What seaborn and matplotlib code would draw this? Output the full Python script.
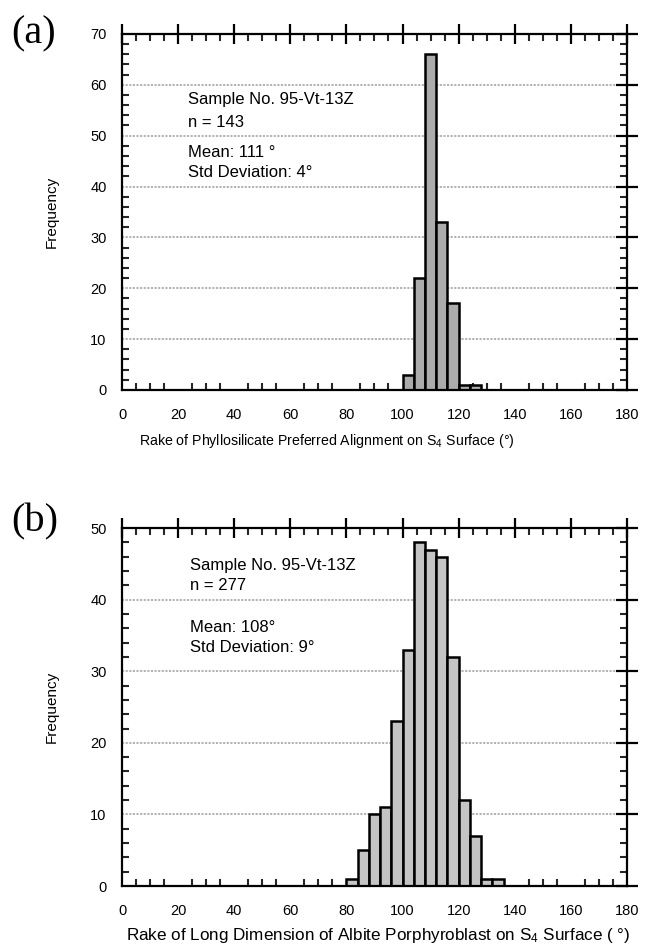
import numpy as np
import matplotlib
matplotlib.use("Agg")
import matplotlib.pyplot as plt
from matplotlib.ticker import MultipleLocator
import seaborn as sns

# histogram data, bins are 4 degrees wide (left edges listed)
bin_w = 4
bins_a = [100, 104, 108, 112, 116, 120, 124]
counts_a = [3, 22, 66, 33, 17, 1, 1]

bins_b = [80, 84, 88, 92, 96, 100, 104, 108, 112, 116, 120, 124, 128, 132]
counts_b = [1, 5, 10, 11, 23, 33, 48, 47, 46, 32, 12, 7, 1, 1]

text_a = ["Sample No. 95-Vt-13Z", "n = 143", "Mean: 111 \u00b0", "Std Deviation: 4\u00b0"]
text_b = ["Sample No. 95-Vt-13Z", "n = 277", "Mean: 108\u00b0", "Std Deviation: 9\u00b0"]

xlabel_a = "Rake of Phyllosilicate Preferred Alignment on S$_4$ Surface (\u00b0)"
xlabel_b = "Rake of Long Dimension of Albite Porphyroblast on S$_4$ Surface ( \u00b0)"

sns.set_style("white")
plt.rcParams['font.family'] = ['Liberation Sans', 'DejaVu Sans']
plt.rcParams['mathtext.fontset'] = 'custom'
plt.rcParams['mathtext.rm'] = 'Liberation Sans'
plt.rcParams['mathtext.it'] = 'Liberation Sans:italic'
plt.rcParams['text.color'] = 'black'
plt.rcParams['axes.labelcolor'] = 'black'

fig = plt.figure(figsize=(6.49, 9.47), dpi=100)
ax_a = fig.add_axes([0.188, 0.5882, 0.778, 0.376])
ax_b = fig.add_axes([0.188, 0.0644, 0.778, 0.378])


def draw_panel(ax, bins, counts, color, ymax, lines, text_y, text_x,
               xlabel, xlabel_size, xlabel_pos):
    edges = list(bins) + [bins[-1] + bin_w]
    sns.histplot(x=bins, weights=counts, bins=edges, ax=ax, color=color,
                 edgecolor='black', linewidth=1.8, alpha=1)
    ax.set_xlim(0, 180)
    ax.set_ylim(0, ymax)
    ax.xaxis.set_major_locator(MultipleLocator(20))
    ax.xaxis.set_minor_locator(MultipleLocator(5))
    ax.yaxis.set_major_locator(MultipleLocator(10))
    ax.yaxis.set_minor_locator(MultipleLocator(2))
    ax.set_axisbelow(True)
    ax.yaxis.grid(True, which='major', color='0.68', lw=1.3, ls=(0, (1.2, 0.8)))
    ax.xaxis.grid(False)
    for s in ax.spines.values():
        s.set_linewidth(1.6)
        s.set_color('black')
    ax.tick_params(which='major', direction='inout', width=1.6, top=True, right=True,
                   labeltop=False, labelright=False, labelsize=10.5, colors='black')
    ax.tick_params(axis='x', which='major', length=14, pad=6)
    ax.tick_params(axis='y', which='major', length=16, pad=3)
    ax.tick_params(which='minor', direction='in', length=5, width=1.5,
                   top=True, right=True, bottom=True, left=True)
    ax.set_ylabel("Frequency", fontsize=11)
    ax.yaxis.set_label_coords(-0.125, 0.5)
    ax.set_xlabel(xlabel, fontsize=xlabel_size)
    ax.xaxis.set_label_coords(*xlabel_pos)
    for line, y in zip(lines, text_y):
        ax.text(text_x, y, line, fontsize=12, va='center', ha='left')


draw_panel(ax_a, bins_a, counts_a, '#acacac', 70, text_a,
           [57.2, 52.5, 46.6, 42.7], 23.6, xlabel_a, 10.2, (0.405, -0.119))
draw_panel(ax_b, bins_b, counts_b, '#c4c4c4', 50, text_b,
           [44.8, 42.0, 36.1, 33.3], 24.4, xlabel_b, 12.3, (0.507, -0.112))

fig.text(0.018, 1 - 34 / 947, "(a)", fontsize=29, va='center', ha='left',
         family=['Liberation Serif', 'DejaVu Serif'])
fig.text(0.018, 1 - 522 / 947, "(b)", fontsize=29, va='center', ha='left',
         family=['Liberation Serif', 'DejaVu Serif'])

fig.savefig("out.png", dpi=100)
